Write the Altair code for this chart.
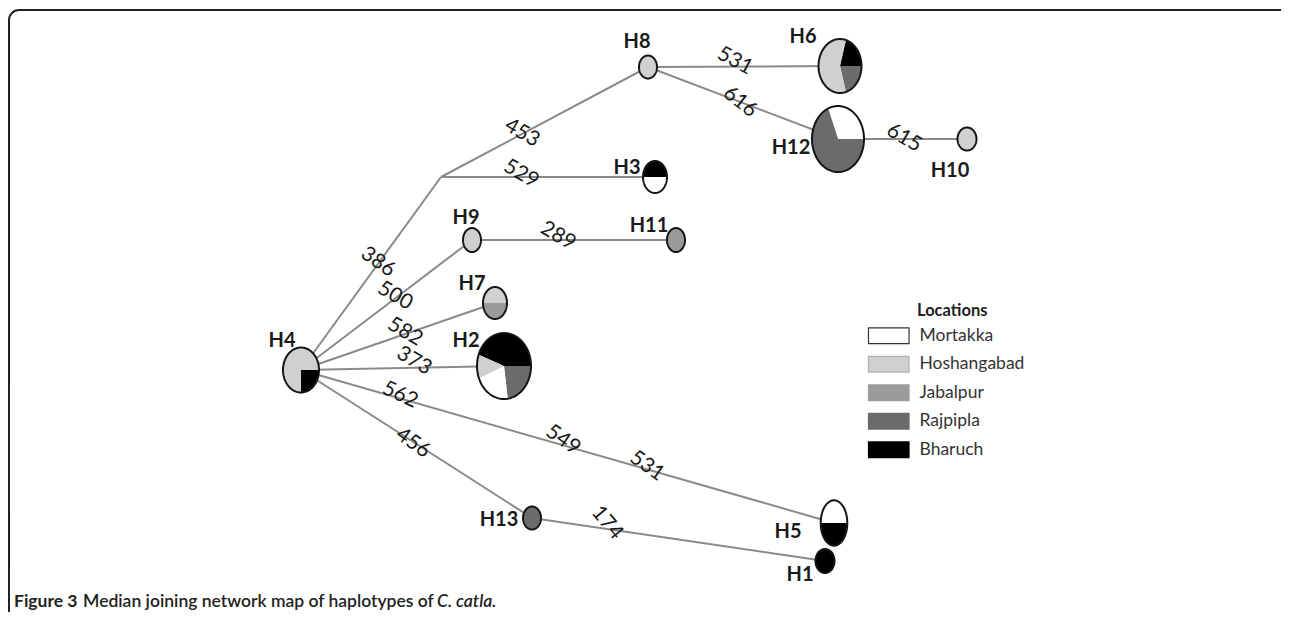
import math
import altair as alt
import pandas as pd

# ---------------- data ----------------
node_id = ["H1", "H2", "H3", "H4", "H5", "H6", "H7", "H8", "H9", "H10", "H11", "H12", "H13"]
node_x = [825, 504, 655, 301, 834, 840, 495, 648, 472, 967, 676, 838, 532]
node_y = [561, 366, 177, 370, 523, 66, 303, 67, 240, 139, 240, 139, 518]
node_rx = [9.5, 27, 12, 18, 13.3, 21.5, 12, 9, 9, 9.5, 9, 26, 9]
node_ry = [12, 33, 16, 22.5, 22.7, 27, 16, 11.5, 12, 11.5, 12, 33, 11.5]
label_x = [800, 466, 627, 282, 788, 803, 472, 637, 466, 950, 649, 791, 499]
label_y = [575, 341, 168, 341, 532, 37, 284, 42, 218, 171, 226, 148, 520]

median_x, median_y = 441, 177

edge_from = ["H4", "mv", "mv", "H4", "H9", "H4", "H4", "H4", "H4", "H13", "H8", "H8", "H12"]
edge_to = ["mv", "H8", "H3", "H9", "H11", "H7", "H2", "H5", "H13", "H1", "H6", "H12", "H10"]

mut_text = ["386", "453", "529", "500", "289", "582", "373", "562", "549", "531", "456", "174", "531", "616", "615"]
mut_x = [378, 522, 521, 395, 558, 405, 414, 400, 563, 647, 413, 607, 735, 740, 904]
mut_y = [262, 133, 174, 296, 236, 332, 361, 395, 440, 466, 443, 523, 61, 102, 138]
mut_angle = [35, 30, 30, 30, 30, 30, 30, 25, 35, 35, 35, 50, 28, 38, 30]

locations = ["Mortakka", "Hoshangabad", "Jabalpur", "Rajpipla", "Bharuch"]
loc_fill = ["#ffffff", "#d0d0d0", "#9b9b9b", "#6b6b6b", "#000000"]
loc_stroke = ["#333333", "#b0b0b0", "#9b9b9b", "#6b6b6b", "#000000"]

# pie slices: node, location, start and end angle (degrees clockwise from 12 o'clock)
slice_node = ["H1", "H2", "H2", "H2", "H2", "H3", "H3", "H4", "H4", "H5", "H5",
              "H6", "H6", "H6", "H7", "H7", "H8", "H9", "H10", "H11", "H12", "H12", "H13"]
slice_loc = ["Bharuch", "Bharuch", "Rajpipla", "Mortakka", "Hoshangabad", "Bharuch", "Mortakka",
             "Hoshangabad", "Bharuch", "Mortakka", "Bharuch",
             "Bharuch", "Rajpipla", "Hoshangabad", "Hoshangabad", "Jabalpur",
             "Hoshangabad", "Hoshangabad", "Hoshangabad", "Jabalpur", "Mortakka", "Rajpipla", "Rajpipla"]
slice_start = [0, -70, 90, 172, 248, -90, 90, 180, 90, -90, 90,
               16, 90, 164, -90, 90, 0, 0, 0, 0, -22, 90, 0]
slice_end = [360, 90, 172, 248, 290, 90, 270, 450, 180, 90, 270,
             90, 164, 376, 90, 270, 360, 360, 360, 360, 90, 338, 360]

caption_bold = "Figure 3"
caption_plain = "Median joining network map of haplotypes of"
caption_italic = "C. catla."

# ---------------- helpers ----------------
W, H = 1273, 604
xs = alt.Scale(domain=[8, 8 + W], nice=False, zero=False)
ys = alt.Scale(domain=[8, 8 + H], nice=False, zero=False, reverse=True)
FONT = "Lato"


def wedge_path(rx, ry, a0, a1):
    span = a1 - a0
    n = max(2, int(abs(span) / 3) + 1)
    full = abs(span) >= 360
    parts = [] if full else ["M0,0"]
    for i in range(n + 1):
        a = math.radians(a0 + span * i / n)
        px = math.sin(a) * rx / ry
        py = -math.cos(a)
        cmd = "M" if (full and i == 0) else "L"
        parts.append(f"{cmd}{px:.4f},{py:.4f}")
    parts.append("Z")
    return "".join(parts)


nodes = pd.DataFrame({"id": node_id, "x": node_x, "y": node_y,
                      "rx": node_rx, "ry": node_ry, "lx": label_x, "ly": label_y})
nodes["path"] = [wedge_path(a, b, 0, 360) for a, b in zip(node_rx, node_ry)]
nodes["size"] = [(2 * b) ** 2 for b in node_ry]

pos = {n: (x, y) for n, x, y in zip(node_id, node_x, node_y)}
pos["mv"] = (median_x, median_y)
edges = pd.DataFrame({
    "x": [pos[a][0] for a in edge_from], "y": [pos[a][1] for a in edge_from],
    "x2": [pos[b][0] for b in edge_to], "y2": [pos[b][1] for b in edge_to],
})

geo = {n: (x, y, a, b) for n, x, y, a, b in zip(node_id, node_x, node_y, node_rx, node_ry)}
slices = pd.DataFrame({
    "node": slice_node, "loc": slice_loc,
    "x": [geo[n][0] for n in slice_node], "y": [geo[n][1] for n in slice_node],
    "path": [wedge_path(geo[n][2], geo[n][3], s, e) for n, s, e in zip(slice_node, slice_start, slice_end)],
    "size": [(2 * geo[n][3]) ** 2 for n in slice_node],
})

muts = pd.DataFrame({"t": mut_text, "x": mut_x, "y": mut_y, "a": mut_angle})

X = lambda f: alt.X(f, scale=xs, axis=None)
Y = lambda f: alt.Y(f, scale=ys, axis=None)

frame = alt.Chart(pd.DataFrame({"k": [0]})).mark_rect(
    cornerRadius=10, fillOpacity=0, stroke="#222222", strokeWidth=2
).encode(x=alt.value(1), x2=alt.value(1400), y=alt.value(2), y2=alt.value(1000))

edge_layer = alt.Chart(edges).mark_rule(color="#8a8a8a", strokeWidth=2).encode(
    x=X("x:Q"), y=Y("y:Q"), x2="x2:Q", y2="y2:Q")

legend = alt.Legend(
    title=None, orient="none", legendX=872, legendY=319,
    symbolType="M-2.6,-1H2.6V1H-2.6Z", symbolSize=243, symbolStrokeWidth=1.2,
    symbolOffset=0, labelOffset=22, rowPadding=7.5, padding=0,
    labelFont=FONT, labelFontSize=17.5, labelColor="#333333", labelLimit=300,
)

slice_layer = alt.Chart(slices).mark_point(filled=True, opacity=1, strokeWidth=0).encode(
    x=X("x:Q"), y=Y("y:Q"),
    shape=alt.Shape("path:N", scale=None),
    size=alt.Size("size:Q", scale=None),
    fill=alt.Fill("loc:N", scale=alt.Scale(domain=locations, range=loc_fill), legend=legend),
    stroke=alt.Stroke("loc:N", scale=alt.Scale(domain=locations, range=loc_stroke), legend=legend),
)

outline_layer = alt.Chart(nodes).mark_point(
    filled=False, opacity=1, stroke="#151515", strokeWidth=2
).encode(x=X("x:Q"), y=Y("y:Q"),
         shape=alt.Shape("path:N", scale=None), size=alt.Size("size:Q", scale=None))

mut_layer = alt.Chart(muts).mark_text(font=FONT, fontSize=21, color="#1a1a1a").encode(
    x=X("x:Q"), y=Y("y:Q"), text="t:N", angle=alt.Angle("a:Q", scale=None))

label_layer = alt.Chart(nodes).mark_text(
    font=FONT, fontSize=20, fontWeight="bold", color="#1a1a1a", baseline="middle"
).encode(x=X("lx:Q"), y=Y("ly:Q"), text="id:N")

legend_title = alt.Chart(pd.DataFrame({"t": ["Locations"], "x": [917], "y": [316]})).mark_text(
    font=FONT, fontSize=16.5, fontWeight="bold", color="#222222", align="left", baseline="alphabetic"
).encode(x=X("x:Q"), y=Y("y:Q"), text="t:N")

CAP = 17.5
cap1 = alt.Chart(pd.DataFrame({"t": [caption_bold], "x": [14], "y": [607]})).mark_text(
    font=FONT, fontSize=CAP, fontWeight="bold", color="#222222", align="left", baseline="alphabetic"
).encode(x=X("x:Q"), y=Y("y:Q"), text="t:N")
cap2 = alt.Chart(pd.DataFrame({"t": [caption_plain], "x": [83], "y": [607]})).mark_text(
    font=FONT, fontSize=CAP, fontWeight=600, color="#222222", align="left", baseline="alphabetic"
).encode(x=X("x:Q"), y=Y("y:Q"), text="t:N")
cap3 = alt.Chart(pd.DataFrame({"t": [caption_italic], "x": [437], "y": [607]})).mark_text(
    font=FONT, fontSize=CAP, fontStyle="italic", fontWeight=600, color="#222222", align="left",
    baseline="alphabetic"
).encode(x=X("x:Q"), y=Y("y:Q"), text="t:N")

chart = alt.layer(
    frame, edge_layer, slice_layer, outline_layer, mut_layer, label_layer,
    legend_title, cap1, cap2, cap3
).properties(
    width=W, height=H, padding=0, autosize=alt.AutoSizeParams(type="none"),
    background="white"
).configure_view(stroke=None)

chart.save("out.html", embed_options={"renderer": "svg", "actions": False})
